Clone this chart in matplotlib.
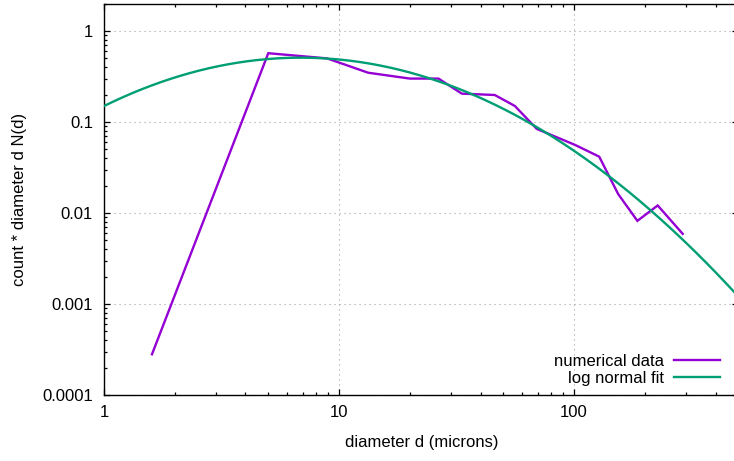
import numpy as np
import matplotlib
matplotlib.use("Agg")
import matplotlib.pyplot as plt
from matplotlib.ticker import FixedLocator, NullFormatter, LogLocator

# ---- data ----
diameter = [1.6, 5.0, 8.9, 13.3, 20.0, 26.5, 33.3, 46.0, 56.0, 69.4,
            101.0, 128.0, 154.0, 186.0, 227.0, 290.0]
count_d_N = [0.00028, 0.57, 0.50, 0.348, 0.30, 0.30, 0.205, 0.198, 0.150,
             0.084, 0.056, 0.0416, 0.0162, 0.0082, 0.0121, 0.0059]

# log normal fit parameters (amplitude, median diameter, log width)
fit_amplitude = 0.509
fit_median = 6.88
fit_sigma = 1.233

x_ticks = [1, 10, 100]
x_tick_labels = ["1", "10", "100"]
y_ticks = [0.0001, 0.001, 0.01, 0.1, 1]
y_tick_labels = ["0.0001", "0.001", "0.01", "0.1", "1"]

legend_labels = ["numerical data", "log normal fit"]
x_label = "diameter d (microns)"
y_label = "count * diameter d N(d)"

# ---- figure ----
plt.rcParams['font.family'] = ['Liberation Sans', 'DejaVu Sans']
W, H = 734, 461
fig = plt.figure(figsize=(W / 100, H / 100), dpi=100)

left_px, right_px, top_px, bottom_px = 104, 738.3, 3.6, 395
ax = fig.add_axes([left_px / W, 1 - bottom_px / H,
                   (right_px - left_px) / W, (bottom_px - top_px) / H])

fs = 12
purple = "#9400D3"
green = "#009E73"

ax.plot(diameter, count_d_N, color=purple, lw=1.7, label=legend_labels[0],
        solid_joinstyle='miter', zorder=3)
xf = np.logspace(0, np.log10(500), 400)
yf = fit_amplitude * np.exp(-(np.log(xf / fit_median)) ** 2 / (2 * fit_sigma ** 2))
ax.plot(xf, yf, color=green, lw=1.7, label=legend_labels[1], zorder=3)

ax.set_xscale('log')
ax.set_yscale('log')
ax.set_xlim(1, 500)
ax.set_ylim(0.0001, 2)

ax.xaxis.set_major_locator(FixedLocator(x_ticks))
ax.set_xticklabels(x_tick_labels)
ax.yaxis.set_major_locator(FixedLocator(y_ticks))
ax.set_yticklabels(y_tick_labels)
ax.xaxis.set_minor_locator(LogLocator(base=10, subs=np.arange(2, 10), numticks=20))
ax.yaxis.set_minor_locator(LogLocator(base=10, subs=np.arange(2, 10), numticks=20))
ax.xaxis.set_minor_formatter(NullFormatter())
ax.yaxis.set_minor_formatter(NullFormatter())

ax.tick_params(which='both', direction='in', top=True, right=True,
               labelsize=fs, colors='black', width=0.9)
ax.tick_params(which='major', length=4.5)
ax.tick_params(which='minor', length=2.5)
ax.tick_params(axis='y', which='major', pad=8)
ax.tick_params(axis='x', which='major', pad=7)

ax.grid(True, which='major', color='#a0a0a0', lw=0.8, linestyle=(0, (1, 3.5)))
ax.set_axisbelow(True)
for s in ax.spines.values():
    s.set_linewidth(1.0)
    s.set_color('black')

fig.text(422 / W, 1 - 442 / H, x_label, ha='center', va='center', fontsize=fs)
fig.text(20 / W, 1 - 199.5 / H, y_label, ha='center', va='center',
         rotation=90, fontsize=fs)

leg = ax.legend(loc='center right', markerfirst=False, frameon=False,
                fontsize=fs, handlelength=2.75, handletextpad=0.6,
                labelspacing=0.1, borderpad=0, borderaxespad=0,
                bbox_to_anchor=(720 / W, 1 - 370 / H),
                bbox_transform=fig.transFigure)

fig.savefig("out.png", dpi=100)
